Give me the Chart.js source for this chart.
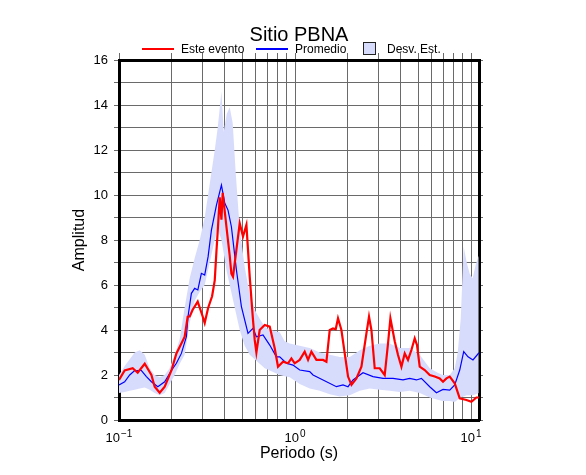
<!DOCTYPE html>
<html>
<head>
<meta charset="utf-8">
<title>Sitio PBNA</title>
<script src="https://cdn.jsdelivr.net/npm/chart.js"></script>
<style>
  html, body { margin: 0; padding: 0; background: #fff; }
  #wrap { width: 586px; height: 475px; }
</style>
</head>
<body>
<div id="wrap"><canvas id="chart" width="586" height="475"></canvas></div>
<script>
// --- data (period in s, amplitude) ---
const redPeriod = [0.100,0.1077,0.1196,0.1277,0.1400,0.1528,0.1595,0.1703,0.1818,0.1985,
  0.2119,0.2262,0.2361,0.2456,0.2521,0.2622,0.2800,0.2989,0.3068,0.3208,
  0.3380,0.3499,0.3578,0.3639,0.3735,0.3819,0.3884,0.4076,0.4256,0.4351,
  0.4443,0.4645,0.4851,0.5064,0.5295,0.5529,0.5773,0.5902,0.6033,0.6299,
  0.6728,0.7184,0.7668,0.8006,0.8549,0.9126,0.9539,0.996,1.063,1.135,
  1.186,1.239,1.323,1.443,1.508,1.575,1.644,1.703,1.755,1.835,
  1.916,2.001,2.092,2.233,2.384,2.545,2.633,2.717,2.837,3.028,
  3.233,3.376,3.483,3.686,3.848,4.023,4.201,4.385,4.585,4.787,
  4.934,5.110,5.457,5.826,6.219,6.639,6.933,7.248,7.568,8.080,
  8.626,9.417,10.05,10.73,11.10];
const redAmp = [1.78,2.2,2.3,2.1,2.5,2.0,1.48,1.21,1.48,2.2,
  2.96,3.4,3.7,4.59,4.6,4.9,5.26,4.6,4.31,4.98,
  5.5,6.2,7.5,8.4,9.9,8.9,10.1,8.6,7.3,6.5,
  6.37,7.56,8.74,8.15,8.67,6.37,4.44,3.56,3.0,4.0,
  4.22,4.15,3.19,2.37,2.59,2.52,2.74,2.52,2.67,3.04,
  2.67,3.04,2.67,2.67,2.59,4.0,4.07,4.03,4.52,4.0,
  2.96,1.93,1.56,1.85,2.37,3.85,4.59,4.0,2.3,2.3,
  2.0,3.4,4.52,3.5,2.89,2.37,2.96,2.67,3.11,3.63,
  3.33,2.37,2.22,2.0,1.93,1.85,1.7,1.85,1.93,1.63,
  0.96,0.89,0.81,1.0,1.0];

const bluePeriod = [0.100,0.1077,0.1150,0.1228,0.1341,0.1431,0.1528,0.1661,0.1818,0.1985,
  0.2119,0.2262,0.2415,0.2466,0.2578,0.2692,0.2805,0.2938,0.3068,0.3208,
  0.3350,0.3578,0.3819,0.3988,0.4162,0.4351,0.4645,0.4960,0.5407,0.5773,
  0.6033,0.6579,0.7184,0.7840,0.8187,0.8934,0.9741,1.063,1.212,1.266,
  1.443,1.719,1.874,2.001,2.136,2.434,2.774,3.162,3.604,4.108,
  4.484,4.895,5.226,5.826,6.359,6.933,7.568,8.080,8.626,9.088,
  9.616,10.26,11.10];
const blueAmp = [1.56,1.7,2.0,2.2,2.2,1.93,1.7,1.48,1.7,2.2,
  2.52,2.96,3.7,4.59,5.63,5.85,5.78,6.52,6.44,7.26,
  8.44,9.55,10.44,9.64,9.33,8.59,6.67,5.04,3.85,4.07,
  3.7,3.78,3.33,2.81,2.81,2.52,2.44,2.22,2.15,2.0,
  1.78,1.48,1.56,1.48,1.78,2.1,1.93,1.85,1.85,1.78,
  1.85,1.78,1.85,1.48,1.21,1.36,1.33,1.56,2.22,3.04,
  2.81,2.67,2.99];

const bandPeriod = [0.100,0.1077,0.1150,0.1228,0.1311,0.1400,0.1494,0.1595,0.1703,0.1818,
  0.1941,0.2073,0.2213,0.2361,0.2521,0.2692,0.2874,0.3068,0.3277,0.3499,
  0.3639,0.3819,0.3936,0.4092,0.4256,0.4426,0.4603,0.4851,0.5178,0.5529,
  0.5902,0.6299,0.6728,0.7184,0.8187,0.8739,0.9330,1.063,1.212,1.381,
  1.575,1.795,2.046,2.184,2.332,2.657,3.028,3.452,3.935,4.484,
  5.110,5.457,5.826,6.469,6.905,7.568,8.080,8.403,8.740,9.088,
  9.454,9.830,10.22,10.63,11.06];
const bandUpper = [2.0,2.4,2.7,3.0,3.1,2.9,2.3,2.0,1.9,2.0,
  2.3,2.9,3.6,5.0,6.3,7.2,8.0,9.0,10.5,12.0,
  13.0,14.6,12.8,13.6,13.9,13.2,11.0,8.5,6.8,5.6,
  4.9,4.5,4.15,4.0,3.9,3.5,3.4,3.3,3.2,3.0,
  2.9,2.8,2.8,2.95,3.1,3.3,3.4,3.4,3.2,3.2,
  2.9,2.6,2.3,2.1,2.0,2.0,2.3,3.0,4.5,7.7,
  7.0,6.5,6.3,6.9,7.3];
const bandLower = [1.2,1.25,1.3,1.35,1.4,1.45,1.35,1.2,1.1,1.2,
  1.6,2.0,2.5,2.9,4.3,5.3,5.7,6.0,7.0,8.0,
  8.5,8.0,7.4,6.6,6.0,5.4,4.8,4.0,3.3,2.9,
  2.7,2.5,2.3,2.2,2.0,1.95,1.9,1.6,1.4,1.3,
  1.15,1.05,1.1,1.2,1.3,1.4,1.35,1.3,1.25,1.3,
  1.2,1.1,1.0,0.9,0.85,0.85,0.8,0.9,1.0,1.05,
  1.1,1.1,1.1,1.15,1.2];

// axis ticks and labels
const xGridValues = [0.1,0.2,0.3,0.4,0.5,0.6,0.7,0.8,0.9,1,2,3,4,5,6,7,8,9,10];
const xLabelValues = [0.1, 1, 10];
const xLabelExponents = ['\u22121', '0', '1'];
const yLabelValues = [0,2,4,6,8,10,12,14,16];

const seriesNames = ['Este evento', 'Promedio', 'Desv. Est.'];

const RED = '#ff0000';
const BLUE = '#0000ff';
const BAND = 'rgb(216, 220, 252)';
const GRID = '#6a6a6a';
const FONT = "'Liberation Sans', Arial, 'DejaVu Sans', sans-serif";

function pairs(xs, ys) {
  return xs.map((x, i) => ({ x: x, y: ys[i] }));
}

function setXTicks(scale) {
  scale.ticks = xGridValues.map(v => ({ value: v }));
}

// title, legend and the 10^n labels on the period axis
const decorations = {
  id: 'decorations',
  afterDraw(chart) {
    const ctx = chart.ctx;
    ctx.save();
    ctx.fillStyle = '#000';
    ctx.textBaseline = 'alphabetic';

    ctx.font = '20px ' + FONT;
    ctx.textAlign = 'center';
    ctx.fillText('Sitio PBNA', 299, 41);

    // legend
    ctx.font = '12px ' + FONT;
    ctx.textAlign = 'left';
    ctx.lineWidth = 2;
    ctx.strokeStyle = RED;
    ctx.beginPath(); ctx.moveTo(142, 49); ctx.lineTo(174, 49); ctx.stroke();
    ctx.fillText(seriesNames[0], 181, 53);
    ctx.strokeStyle = BLUE;
    ctx.beginPath(); ctx.moveTo(256, 49); ctx.lineTo(288, 49); ctx.stroke();
    ctx.fillText(seriesNames[1], 295, 53);
    ctx.fillStyle = BAND;
    ctx.fillRect(363.5, 42.5, 12, 12);
    ctx.lineWidth = 1;
    ctx.strokeStyle = '#222';
    ctx.strokeRect(363.5, 42.5, 12, 12);
    ctx.fillStyle = '#000';
    ctx.fillText(seriesNames[2], 387, 53);

    // x tick labels with exponents
    const xs = chart.scales.x;
    xLabelValues.forEach((v, i) => {
      const px = xs.getPixelForValue(v);
      ctx.font = '13px ' + FONT;
      const wBase = ctx.measureText('10').width;
      ctx.font = '10px ' + FONT;
      const wExp = ctx.measureText(xLabelExponents[i]).width;
      const start = px - (wBase + wExp + 1) / 2;
      ctx.font = '13px ' + FONT;
      ctx.fillText('10', start, 442);
      ctx.font = '10px ' + FONT;
      ctx.fillText(xLabelExponents[i], start + wBase + 1, 437);
    });
    ctx.restore();
  }
};

new Chart(document.getElementById('chart'), {
  type: 'line',
  data: {
    datasets: [
      {
        label: seriesNames[0],
        data: pairs(redPeriod, redAmp),
        borderColor: RED,
        borderWidth: 2.2,
        pointRadius: 0,
        tension: 0,
        fill: false
      },
      {
        label: seriesNames[1],
        data: pairs(bluePeriod, blueAmp),
        borderColor: BLUE,
        borderWidth: 1.2,
        pointRadius: 0,
        tension: 0,
        fill: false
      },
      {
        label: seriesNames[2],
        data: pairs(bandPeriod, bandUpper),
        borderWidth: 0,
        borderColor: 'rgba(0,0,0,0)',
        backgroundColor: BAND,
        pointRadius: 0,
        tension: 0,
        fill: '+1'
      },
      {
        label: 'lower',
        data: pairs(bandPeriod, bandLower),
        borderWidth: 0,
        borderColor: 'rgba(0,0,0,0)',
        pointRadius: 0,
        tension: 0,
        fill: false
      }
    ]
  },
  options: {
    responsive: false,
    animation: false,
    layout: { padding: 0, autoPadding: false },
    plugins: {
      legend: { display: false },
      title: { display: false },
      tooltip: { enabled: false }
    },
    scales: {
      x: {
        type: 'logarithmic',
        position: 'bottom',
        min: 0.1,
        max: 11.1,
        afterBuildTicks: setXTicks,
        afterFit: s => { s.height = 55; },
        ticks: { autoSkip: false, maxRotation: 0, callback: () => '' },
        grid: { color: GRID, lineWidth: 1, drawTicks: false },
        border: { color: '#000', width: 3 },
        title: {
          display: true,
          text: 'Periodo (s)',
          color: '#000',
          font: { family: FONT, size: 16 },
          padding: { top: 0, bottom: 12 }
        }
      },
      x2: {
        type: 'logarithmic',
        position: 'top',
        min: 0.1,
        max: 11.1,
        afterBuildTicks: setXTicks,
        afterFit: s => { s.height = 60; },
        ticks: { display: false },
        grid: { color: GRID, lineWidth: 1, drawOnChartArea: false, tickLength: 7 },
        border: { color: '#000', width: 3 }
      },
      y: {
        type: 'linear',
        position: 'left',
        min: 0,
        max: 16,
        afterFit: s => { s.width = 119; },
        ticks: {
          stepSize: 1,
          autoSkip: false,
          padding: 6,
          color: '#000',
          font: { family: FONT, size: 13 },
          callback: v => (yLabelValues.includes(v) ? String(v) : '')
        },
        grid: { color: GRID, lineWidth: 1, tickLength: 5 },
        border: { color: '#000', width: 3 },
        title: {
          display: true,
          text: 'Amplitud',
          color: '#000',
          font: { family: FONT, size: 16 },
          padding: { top: 70, bottom: 0 }
        }
      },
      y2: {
        type: 'linear',
        position: 'right',
        min: 0,
        max: 16,
        afterFit: s => { s.width = 107; },
        ticks: { display: false, stepSize: 1 },
        grid: { color: GRID, lineWidth: 1, drawOnChartArea: false, tickLength: 4 },
        border: { color: '#000', width: 3 }
      }
    }
  },
  plugins: [decorations]
});
</script>
</body>
</html>
